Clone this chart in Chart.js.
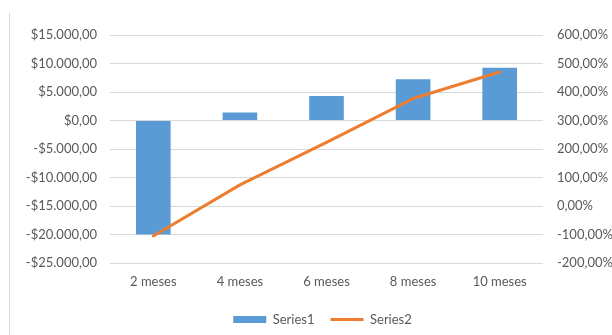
<!DOCTYPE html>
<html>
<head>
<meta charset="utf-8">
<script src="https://cdn.jsdelivr.net/npm/chart.js@4.4.1/dist/chart.umd.min.js"></script>
<style>
  html, body { margin: 0; padding: 0; background: #fff; overflow: hidden; }
  #wrap { position: relative; width: 645px; height: 336px; }
  #edge { position: absolute; left: 9px; top: 13px; width: 1px; height: 330px; background: #d9d9d9; }
</style>
</head>
<body>
<div id="wrap">
  <div id="edge"></div>
  <canvas id="combo" width="645" height="336"></canvas>
</div>
<script>
const categories = ['2 meses', '4 meses', '6 meses', '8 meses', '10 meses'];
const series1 = [-20000, 1400, 4300, 7250, 9250];
const series2 = [-105, 74, 223, 377, 470];
const leftTicks = [-25000, -20000, -15000, -10000, -5000, 0, 5000, 10000, 15000];
const rightTicks = [-200, -100, 0, 100, 200, 300, 400, 500, 600];

const textColor = '#595959';
const gridColor = '#d9d9d9';
const font = { family: 'Lato', size: 13 };

function groupThousands(n) {
  return String(n).replace(/\B(?=(\d{3})+(?!\d))/g, '.');
}
function money(v) {
  const sign = v < 0 ? '-' : '';
  return sign + '$' + groupThousands(Math.abs(Math.round(v))) + ',00';
}
function pct(v) {
  const sign = v < 0 ? '-' : '';
  return sign + Math.abs(Math.round(v)) + ',00%';
}

const ctx = document.getElementById('combo').getContext('2d');
new Chart(ctx, {
  data: {
    labels: categories,
    datasets: [
      {
        type: 'bar',
        label: 'Series1',
        data: series1,
        backgroundColor: '#5B9BD5',
        barPercentage: 0.4,
        categoryPercentage: 1,
        yAxisID: 'y',
        order: 2
      },
      {
        type: 'line',
        label: 'Series2',
        data: series2,
        borderColor: '#ED7D31',
        backgroundColor: '#ED7D31',
        borderWidth: 3,
        borderCapStyle: 'round',
        borderJoinStyle: 'round',
        pointRadius: 0,
        tension: 0,
        yAxisID: 'y1',
        order: 1
      }
    ]
  },
  options: {
    responsive: false,
    animation: false,
    layout: { padding: { top: 35, left: 0, right: 0, bottom: 0 } },
    scales: {
      x: {
        grid: { display: false, drawTicks: false },
        border: { display: false },
        ticks: { color: textColor, font, padding: 11 },
        afterFit: (s) => { s.height = 34; }
      },
      y: {
        position: 'left',
        min: -25000,
        max: 15000,
        afterBuildTicks: (s) => { s.ticks = leftTicks.map((v) => ({ value: v })); },
        grid: { color: gridColor, lineWidth: 1, drawTicks: false },
        border: { display: false },
        ticks: { color: textColor, font, padding: 13, callback: (v) => money(v) },
        afterFit: (s) => { s.width = 110; }
      },
      y1: {
        position: 'right',
        min: -200,
        max: 600,
        afterBuildTicks: (s) => { s.ticks = rightTicks.map((v) => ({ value: v })); },
        grid: { display: false, drawTicks: false },
        border: { display: false },
        ticks: { color: textColor, font, padding: 14, callback: (v) => pct(v) },
        afterFit: (s) => { s.width = 102; }
      }
    },
    plugins: {
      tooltip: { enabled: false },
      legend: {
        position: 'bottom',
        labels: {
          color: textColor,
          font,
          padding: 16,
          boxWidth: 33,
          boxHeight: 7,
          usePointStyle: true,
          pointStyleWidth: 33,
          generateLabels: () => [
            { text: 'Series1', fillStyle: '#5B9BD5', strokeStyle: '#5B9BD5', lineWidth: 0, pointStyle: 'rect', fontColor: textColor, datasetIndex: 0 },
            { text: 'Series2', fillStyle: '#ED7D31', strokeStyle: '#ED7D31', lineWidth: 3, pointStyle: 'line', fontColor: textColor, datasetIndex: 1 }
          ]
        }
      }
    }
  }
});
</script>
</body>
</html>
